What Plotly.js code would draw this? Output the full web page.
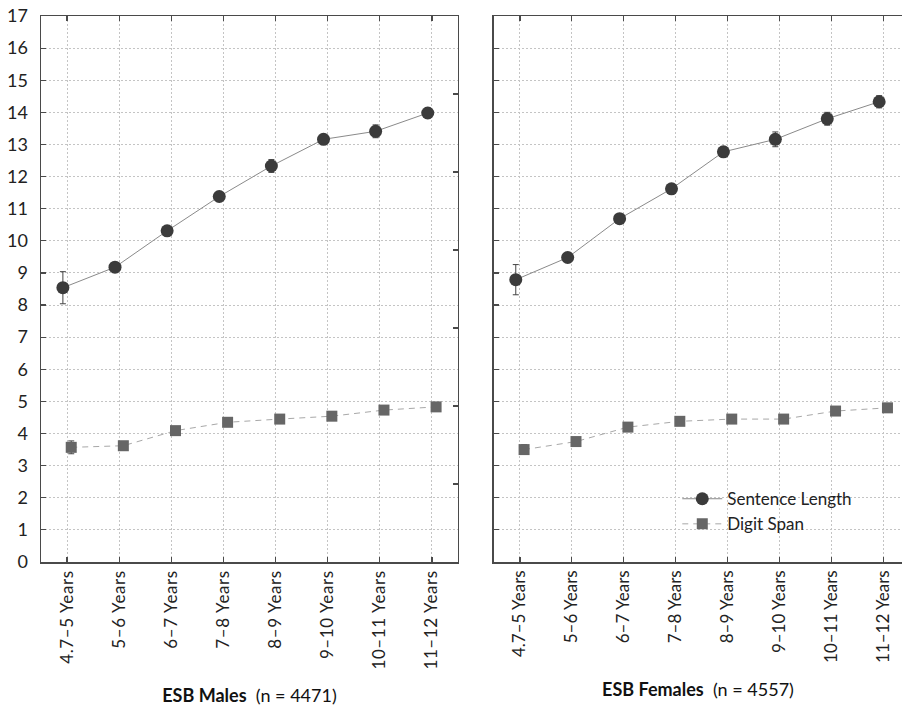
<!DOCTYPE html>
<html>
<head>
<meta charset="utf-8">
<script src="https://cdn.plot.ly/plotly-3.0.1.min.js"></script>
<style>
html,body{margin:0;padding:0;background:#fff;overflow:hidden;}
#chart{width:902px;height:720px;}
.xtick text{letter-spacing:0.6px;}
</style>
</head>
<body>
<div id="chart"></div>
<script>
const categories = ['4.7–5 Years','5–6 Years','6–7 Years','7–8 Years','8–9 Years','9–10 Years','10–11 Years','11–12 Years'];
const yTicks = [0,1,2,3,4,5,6,7,8,9,10,11,12,13,14,15,16,17];

const malesSentence    = [8.54, 9.18, 10.31, 11.38, 12.33, 13.16, 13.41, 13.98];
const malesSentenceErr = [0.50, 0.12, 0.12, 0.12, 0.20, 0.12, 0.20, 0.15];
const malesDigit       = [3.57, 3.62, 4.09, 4.35, 4.45, 4.54, 4.73, 4.83];
const malesDigitErr    = [0.20, 0.08, 0.08, 0.08, 0.08, 0.08, 0.08, 0.08];

const femalesSentence    = [8.79, 9.48, 10.69, 11.62, 12.77, 13.16, 13.80, 14.33];
const femalesSentenceErr = [0.47, 0.12, 0.12, 0.12, 0.15, 0.23, 0.20, 0.19];
const femalesDigit       = [3.50, 3.75, 4.20, 4.38, 4.45, 4.45, 4.70, 4.80];
const femalesDigitErr    = [0.15, 0.08, 0.08, 0.08, 0.08, 0.08, 0.08, 0.08];

const FONT = 'Lato, "Open Sans", sans-serif';
const sentStyle = {
  mode:'lines+markers',
  line:{color:'#8a8a8a', width:1},
  marker:{symbol:'circle', size:13, color:'#3b3b3b'},
};
const digitStyle = {
  mode:'lines+markers',
  line:{color:'#a8a8a8', width:1, dash:'6px,5px'},
  marker:{symbol:'square', size:11, color:'#666666'},
};
function err(arr){ return {type:'data', array:arr, visible:true, color:'#444', thickness:1, width:3}; }

const traces = [
  Object.assign({x:categories, y:malesSentence, error_y:err(malesSentenceErr), name:'Sentence Length', xaxis:'x', yaxis:'y', offsetgroup:'a', legendgroup:'s', showlegend:true}, sentStyle),
  Object.assign({x:categories, y:malesDigit, error_y:err(malesDigitErr), name:'Digit Span', xaxis:'x', yaxis:'y', offsetgroup:'b', legendgroup:'d', showlegend:true}, digitStyle),
  Object.assign({x:categories, y:femalesSentence, error_y:err(femalesSentenceErr), name:'Sentence Length', xaxis:'x2', yaxis:'y3', offsetgroup:'a', legendgroup:'s', showlegend:false}, sentStyle),
  Object.assign({x:categories, y:femalesDigit, error_y:err(femalesDigitErr), name:'Digit Span', xaxis:'x2', yaxis:'y3', offsetgroup:'b', legendgroup:'d', showlegend:false}, digitStyle),
  {x:categories, y:[null,null,null,null,null,null,null,null], xaxis:'x', yaxis:'y2', showlegend:false, hoverinfo:'skip', mode:'markers'}
];

const gridC = '#c4c4c4';
const axLine = '#4a4a4a';
function xax(domain, range, title){
  return {
    domain:domain, type:'category', range:range,
    showgrid:true, gridcolor:gridC, griddash:'2px,2px', gridwidth:1,
    showline:true, linecolor:axLine, linewidth:1.5, mirror:'ticks',
    ticks:'inside', ticklen:5, tickcolor:axLine, tickwidth:1.2,
    tickangle:-90, tickfont:{family:FONT, size:17, color:'#222'},
    zeroline:false, automargin:false,
    title:{text:title, font:{family:FONT, size:18, color:'#111'}, standoff:21}
  };
}
const layout = {
  width:902, height:720,
  margin:{l:41, r:0, t:16, b:158},
  paper_bgcolor:'#fff', plot_bgcolor:'#fff',
  font:{family:FONT, color:'#222'},
  scattermode:'group', scattergap:0.68,
  showlegend:true,
  legend:{x:0.739, y:0.148, xanchor:'left', yanchor:'top', bgcolor:'rgba(0,0,0,0)',
          font:{family:FONT, size:17, color:'#222'}, tracegroupgap:0, itemwidth:40},
  xaxis: xax([0, 0.4843], [-0.5, 7.5], '<b>ESB Males</b> &nbsp;(n = 4471)'),
  xaxis2: Object.assign(xax([0.5261, 1], [-0.5, 7.36], '<b>ESB Females</b> &nbsp;(n = 4557)'), {anchor:'y3'}),
  yaxis: {
    domain:[0,1], range:[0,17], tickvals:yTicks,
    showgrid:true, gridcolor:gridC, griddash:'2px,2px', gridwidth:1,
    showline:true, linecolor:axLine, linewidth:1.5,
    ticks:'inside', ticklen:5, tickcolor:axLine, tickwidth:1.2,
    tickfont:{family:FONT, size:18, color:'#222'}, ticklabelstandoff:8,
    zeroline:false, automargin:false
  },
  yaxis2: {
    overlaying:'y', side:'right', anchor:'x', range:[0,7], dtick:1,
    showgrid:false, showline:true, linecolor:axLine, linewidth:1.5,
    ticks:'inside', ticklen:5, tickcolor:axLine, tickwidth:1.2,
    showticklabels:false, zeroline:false
  },
  yaxis3: {
    domain:[0,1], anchor:'x2', range:[0,17], tickvals:yTicks,
    showgrid:true, gridcolor:gridC, griddash:'2px,2px', gridwidth:1,
    showline:true, linecolor:axLine, linewidth:1.5,
    ticks:'inside', ticklen:5, tickcolor:axLine, tickwidth:1.2,
    showticklabels:false, zeroline:false
  }
};
Plotly.newPlot('chart', traces, layout, {displayModeBar:false, staticPlot:true});
</script>
</body>
</html>
